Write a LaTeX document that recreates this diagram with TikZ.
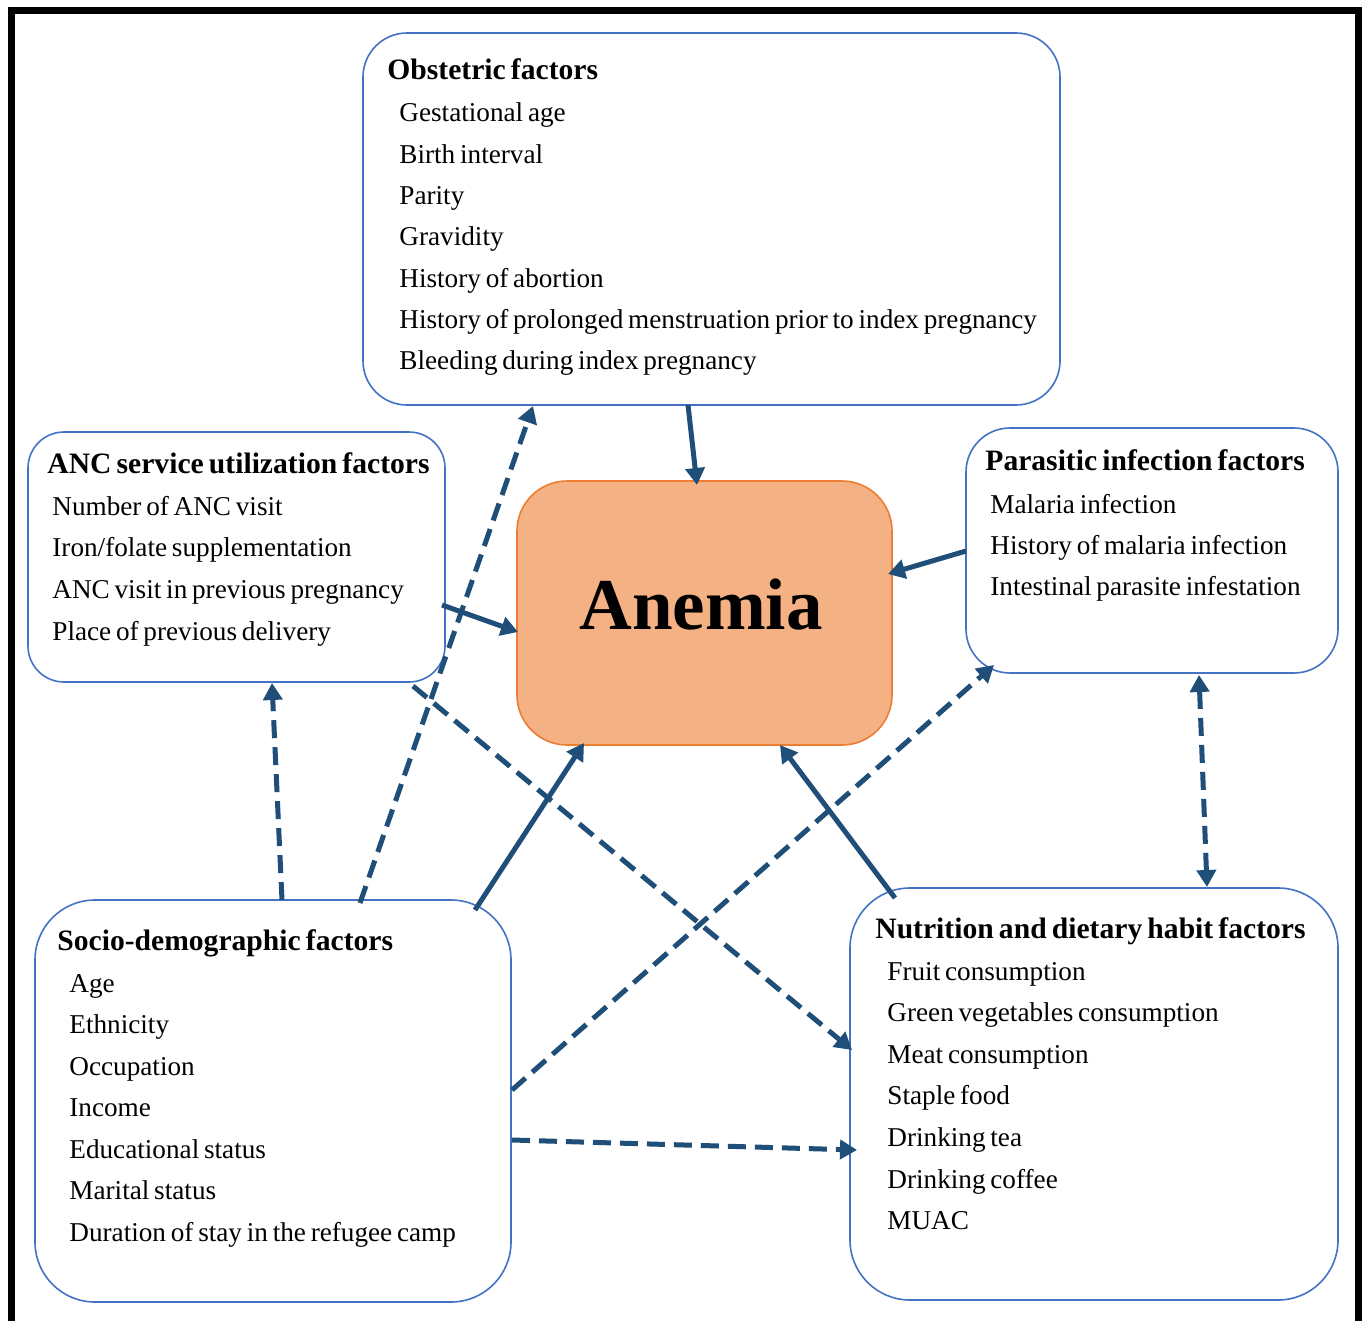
\documentclass[tikz,border=0pt]{standalone}
\usepackage{fontspec}
\setmainfont{Liberation Serif}[WordSpace=0.7]
\usetikzlibrary{calc,arrows.meta}
\definecolor{boxblue}{RGB}{68,114,196}
\definecolor{arrblue}{RGB}{31,78,121}
\definecolor{anfill}{RGB}{244,177,131}
\definecolor{anline}{RGB}{237,125,49}
\begin{document}
\begin{tikzpicture}[x=0.5pt,y=-0.5pt,
  factorbox/.style={draw=boxblue, line width=0.8pt, fill=white, inner sep=0pt, outer sep=0pt},
  ttl/.style={anchor=base west, inner sep=0pt, font=\fontsize{14.8}{18}\selectfont\bfseries},
  itm/.style={anchor=base west, inner sep=0pt, font=\fontsize{13.6}{16}\selectfont},
  solidarrow/.style={draw=arrblue, line width=2.5pt, -{Triangle[length=8.5pt,width=9.5pt]}},
  dasharrow/.style={solidarrow, dash pattern=on 9pt off 4.5pt},
  dasharrowboth/.style={dasharrow, {Triangle[length=8.5pt,width=9.5pt]}-{Triangle[length=8.5pt,width=9.5pt]}},
]
\useasboundingbox (0,0) rectangle (1364,1321);
\fill[white] (0,0) rectangle (1364,1321);
\draw[line width=3.5pt] (11,1340) -- (11,11) -- (1358,11) -- (1358,1340);

% boxes
\node[factorbox, rounded corners=22pt, minimum width=348.5pt, minimum height=186pt] (obs) at (711.5,219) {};
\node[factorbox, rounded corners=18pt, minimum width=208.5pt, minimum height=125pt] (anc) at (236.5,557) {};
\node[draw=anline, fill=anfill, line width=0.8pt, inner sep=0pt, outer sep=0pt, rounded corners=25pt, minimum width=187.5pt, minimum height=132pt] (an) at (704.5,613) {};
\node[factorbox, rounded corners=22pt, minimum width=186pt, minimum height=122.5pt] (par) at (1152,550.5) {};
\node[factorbox, rounded corners=30pt, minimum width=238pt, minimum height=201pt] (soc) at (273,1101) {};
\node[factorbox, rounded corners=30pt, minimum width=244pt, minimum height=206pt] (nut) at (1094,1094) {};

% texts
\node[inner sep=0pt, font=\fontsize{36.5}{40}\selectfont\bfseries] (anT) at (701,605) {Anemia};

\node[ttl] (obsT) at (387,80) {Obstetric factors};
\foreach \t [count=\i] in {Gestational age,Birth interval,Parity,Gravidity,History of abortion,History of prolonged menstruation prior to index pregnancy,Bleeding during index pregnancy}
  \node[itm] (obs-\i) at (399,{122+41.3*(\i-1)}) {\t};

\node[ttl] (ancT) at (47,473) {ANC service utilization factors};
\foreach \t [count=\i] in {Number of ANC visit,Iron/folate supplementation,ANC visit in previous pregnancy,Place of previous delivery}
  \node[itm] (anc-\i) at (52,{515+41.7*(\i-1)}) {\t};

\node[ttl] (parT) at (985,470) {Parasitic infection factors};
\foreach \t [count=\i] in {Malaria infection,History of malaria infection,Intestinal parasite infestation}
  \node[itm] (par-\i) at (990,{513+41*(\i-1)}) {\t};

\node[ttl] (socT) at (57,950) {Socio-demographic factors};
\foreach \t [count=\i] in {Age,Ethnicity,Occupation,Income,Educational status,Marital status,Duration of stay in the refugee camp}
  \node[itm] (soc-\i) at (69,{992+41.5*(\i-1)}) {\t};

\node[ttl] (nutT) at (875,938) {Nutrition and dietary habit factors};
\foreach \t [count=\i] in {Fruit consumption,Green vegetables consumption,Meat consumption,Staple food,Drinking tea,Drinking coffee,MUAC}
  \node[itm] (nut-\i) at (887,{980+41.6*(\i-1)}) {\t};

% solid connectors
\draw[solidarrow] ($(obs.south west)+(325,0)$) -- ($(an.north west)+(180,4)$);
\draw[solidarrow] ($(anc.south east)+(-3,-77)$) -- ($(an.south west)+(1,-113)$);
\draw[solidarrow] ($(par.south west)+(0,-122)$) -- ($(an.north east)+(-4,93)$);
\draw[solidarrow] ($(soc.north east)+(-36,10)$) -- ($(an.south west)+(67,-2)$);
\draw[solidarrow] ($(nut.north west)+(45,10)$) -- ($(an.south west)+(263,0)$);

% dashed connectors
\draw[dasharrow] ($(soc.north west)+(325,3)$) -- ($(obs.south west)+(170,1)$);
\draw[dasharrow] ($(soc.north west)+(247,0)$) -- ($(anc.south west)+(244,1)$);
\draw[dasharrow] ($(anc.south east)+(-32,4)$) -- ($(nut.north west)+(2,162)$);
\draw[dasharrow] ($(soc.north east)+(1,190)$) -- ($(par.south west)+(28,-8)$);
\draw[dasharrow] ($(soc.north east)+(1,240)$) -- ($(nut.north west)+(7,262)$);
\draw[dasharrowboth] ($(par.south west)+(233,2)$) -- ($(nut.north west)+(357,-1)$);
\end{tikzpicture}
\end{document}
